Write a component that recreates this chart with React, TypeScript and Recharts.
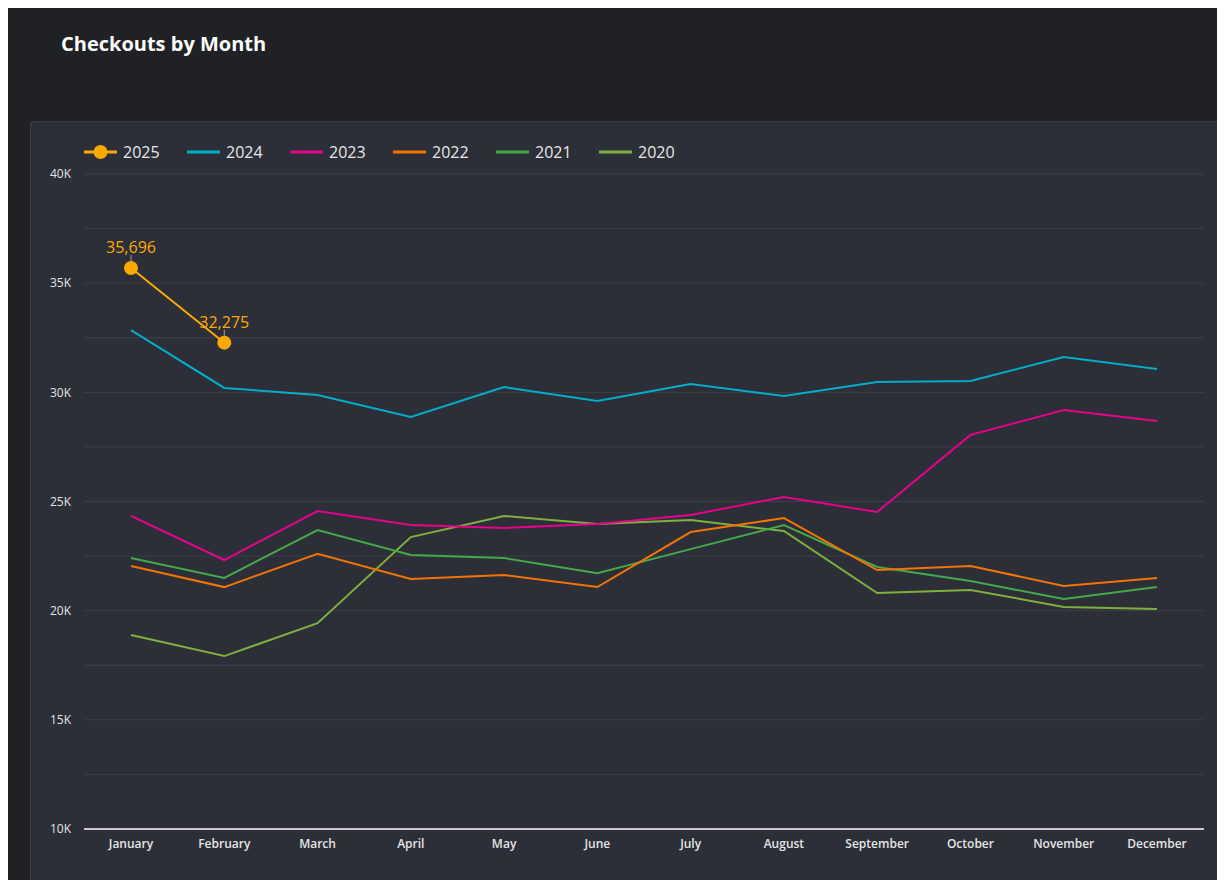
import React from 'react';
import { LineChart, Line, XAxis, YAxis, CartesianGrid, Legend, LabelList } from 'recharts';

const months = ['January', 'February', 'March', 'April', 'May', 'June', 'July', 'August', 'September', 'October', 'November', 'December'];
const y2025 = [35696, 32275];
const y2024 = [32850, 30200, 29880, 28870, 30240, 29600, 30380, 29830, 30470, 30520, 31620, 31070];
const y2023 = [24340, 22320, 24560, 23920, 23790, 23970, 24380, 25210, 24520, 28050, 29190, 28690];
const y2022 = [22050, 21080, 22600, 21450, 21630, 21080, 23600, 24240, 21860, 22050, 21130, 21500];
const y2021 = [22410, 21500, 23690, 22550, 22410, 21720, 22820, 23920, 22000, 21360, 20530, 21080];
const y2020 = [18890, 17920, 19430, 23370, 24340, 23970, 24150, 23650, 20810, 20950, 20170, 20080];
const yTicks = [10000, 12500, 15000, 17500, 20000, 22500, 25000, 27500, 30000, 32500, 35000, 37500, 40000];

const series = [
  { key: 's2025', name: '2025', color: '#FFA800', values: y2025 },
  { key: 's2024', name: '2024', color: '#00AECB', values: y2024 },
  { key: 's2023', name: '2023', color: '#E8008C', values: y2023 },
  { key: 's2022', name: '2022', color: '#F57300', values: y2022 },
  { key: 's2021', name: '2021', color: '#45A84A', values: y2021 },
  { key: 's2020', name: '2020', color: '#7FB03E', values: y2020 },
];

const data = months.map((m, i) => {
  const row: any = { month: m };
  series.forEach((s) => {
    if (i < s.values.length) row[s.key] = s.values[i];
  });
  return row;
});

const FONT = '"Open Sans", "Noto Sans", sans-serif';

const LegendContent = () => (
  <div style={{ display: 'flex', alignItems: 'center', height: 30, fontFamily: FONT }}>
    {series.map((s, i) => (
      <div key={s.key} style={{ display: 'flex', alignItems: 'center', width: 103 }}>
        <svg width={33} height={18} style={{ display: 'block' }}>
          <line x1={0} x2={33} y1={9} y2={9} stroke={s.color} strokeWidth={3} />
          {i === 0 && <circle cx={16.5} cy={9} r={7} fill={s.color} />}
        </svg>
        <span style={{ marginLeft: 6, fontSize: 16, color: '#e6e6e6' }}>{s.name}</span>
      </div>
    ))}
  </div>
);

const ValueLabel = (props: any) => {
  const x = props.x ?? props.viewBox?.x;
  const y = props.y ?? props.viewBox?.y;
  const v = Number(props.value);
  if (x == null || y == null || isNaN(v)) return null;
  return (
    <g>
      <line x1={x} x2={x} y1={y - 13} y2={y - 6} stroke="#a0a0a0" strokeWidth={1} />
      <text x={x} y={y - 15} textAnchor="middle" fill="#FFA800" fontSize={16} fontFamily={FONT}>
        {v.toLocaleString('en-US')}
      </text>
    </g>
  );
};

export default function App() {
  const drawOrder = [...series].reverse();
  return (
    <div style={{ width: 1217, height: 872, background: '#202125', position: 'relative', fontFamily: FONT, overflow: 'hidden' }}>
      <div style={{ position: 'absolute', left: 53, top: 22, fontSize: 20, fontWeight: 700, color: '#ffffff', lineHeight: 'normal' }}>
        Checkouts by Month
      </div>
      <div style={{ position: 'absolute', left: 22, top: 113, width: 1195, height: 759, background: '#2c2f38', borderTopLeftRadius: 4, boxShadow: 'inset 1px 1px 0 #3a3d46' }}>
        <LineChart width={1195} height={759} data={data} margin={{ top: 23, right: 21, bottom: 0, left: 0 }}>
          <CartesianGrid vertical={false} stroke="#3c3f49" strokeWidth={1} />
          <XAxis
            dataKey="month"
            padding={{ left: 47, right: 47 }}
            axisLine={{ stroke: '#c9c9c9', strokeWidth: 2 }}
            tickLine={false}
            tickMargin={4}
            tick={{ fill: '#e4e4e4', fontSize: 12, fontWeight: 600, fontFamily: FONT }}
            interval={0}
            height={51}
          />
          <YAxis
            domain={[10000, 40000]}
            ticks={yTicks}
            interval={0}
            width={54}
            axisLine={false}
            tickLine={false}
            tickMargin={7}
            tick={{ fill: '#e4e4e4', fontSize: 12, fontFamily: FONT }}
            tickFormatter={(v: number) => (v % 5000 === 0 ? `${v / 1000}K` : '')}
          />
          <Legend verticalAlign="top" align="left" content={<LegendContent />} wrapperStyle={{ top: 16, left: 54, height: 30 }} />
          {drawOrder.map((s) => (
            <Line
              key={s.key}
              dataKey={s.key}
              name={s.name}
              stroke={s.color}
              strokeWidth={2}
              dot={s.key === 's2025' ? { r: 7, fill: s.color, stroke: 'none' } : false}
              activeDot={false}
              isAnimationActive={false}
              type="linear"
              connectNulls={false}
            >
              {s.key === 's2025' && <LabelList dataKey={s.key} content={<ValueLabel />} />}
            </Line>
          ))}
        </LineChart>
      </div>
    </div>
  );
}
